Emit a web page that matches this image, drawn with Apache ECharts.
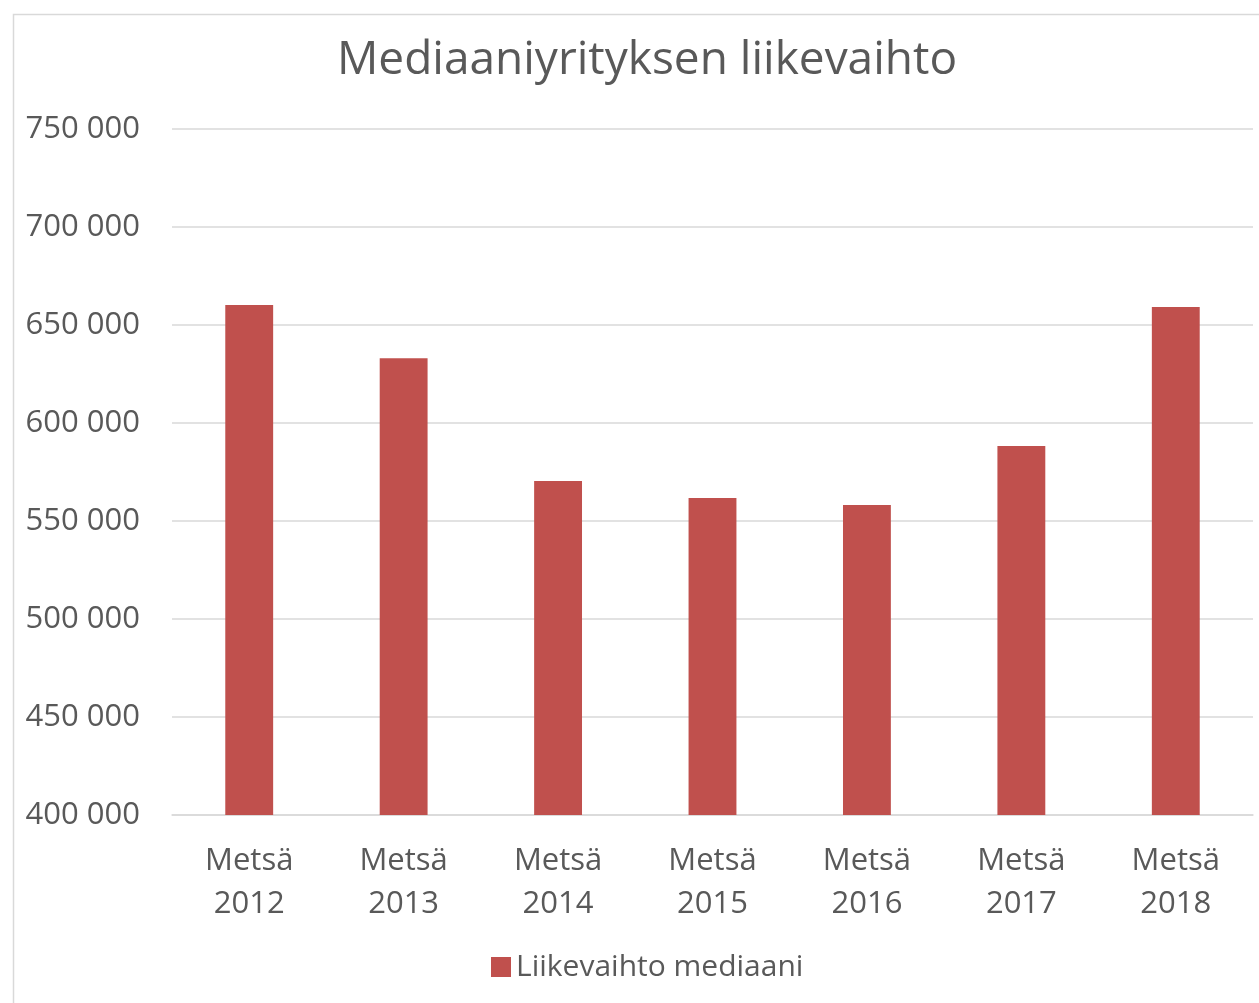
<!DOCTYPE html>
<html>
<head>
<meta charset="utf-8">
<script src="https://cdn.jsdelivr.net/npm/echarts@6/dist/echarts.min.js"></script>
<style>
  html, body { margin: 0; padding: 0; background: #fff; }
  #chart { width: 1259px; height: 1003px; }
</style>
</head>
<body>
<div id="chart"></div>
<script>
var categories = ["Metsä\n2012", "Metsä\n2013", "Metsä\n2014", "Metsä\n2015", "Metsä\n2016", "Metsä\n2017", "Metsä\n2018"];
var values = [660200, 633000, 570400, 561700, 558200, 588300, 659200];
var seriesName = "Liikevaihto mediaani";
var titleText = "Mediaaniyrityksen liikevaihto";

var font = "'Open Sans', 'Liberation Sans', sans-serif";
var chart = echarts.init(document.getElementById("chart"));

function fmt(v) { return String(v).replace(/\B(?=(\d{3})+(?!\d))/g, " "); }

chart.setOption({
  animation: false,
  graphic: [{
    type: "rect", left: 11, top: 12, silent: true,
    shape: { width: 1300, height: 1100 },
    style: { fill: "none", stroke: "#d9d9d9", lineWidth: 1.5 }
  }],
  title: {
    text: titleText, left: 642, top: 33, textAlign: "center",
    textStyle: { fontFamily: font, fontSize: 46, fontWeight: "normal", color: "#595959" }
  },
  legend: {
    data: [seriesName], left: 486, top: 947, itemWidth: 20, itemHeight: 20, itemGap: 8,
    icon: "rect",
    textStyle: { fontFamily: font, fontSize: 30, color: "#595959" }
  },
  grid: { left: 172, right: 6, top: 129, bottom: 188 },
  xAxis: {
    type: "category", data: categories,
    axisLine: { lineStyle: { color: "#d9d9d9", width: 1.5 } },
    axisTick: { show: false },
    axisLabel: { fontFamily: font, fontSize: 31, color: "#595959", lineHeight: 43, margin: 25 }
  },
  yAxis: {
    type: "value", min: 400000, max: 750000, interval: 50000,
    axisLine: { show: false }, axisTick: { show: false },
    splitLine: { lineStyle: { color: "#d9d9d9", width: 1.5 } },
    axisLabel: { fontFamily: font, fontSize: 31, color: "#595959", margin: 32, formatter: fmt }
  },
  series: [{
    name: seriesName, type: "bar", data: values, barWidth: "31%",
    itemStyle: { color: "#C0504D" }
  }]
});
</script>
</body>
</html>
